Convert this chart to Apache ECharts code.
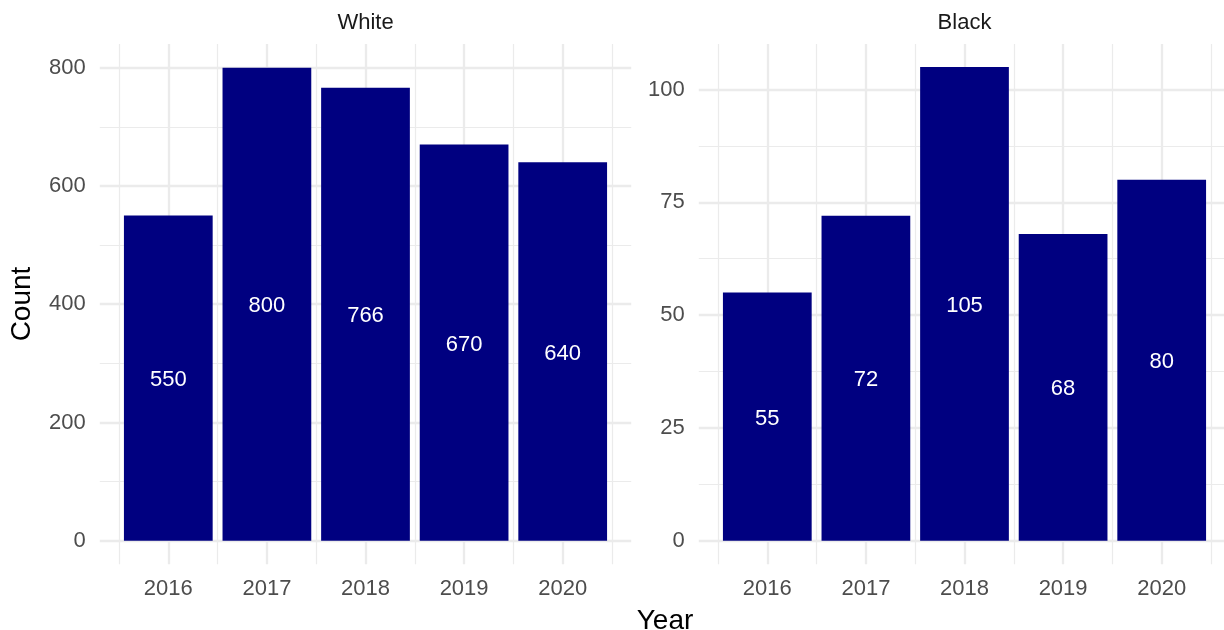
<!DOCTYPE html>
<html>
<head>
<meta charset="utf-8">
<script src="https://cdn.jsdelivr.net/npm/echarts@6/dist/echarts.min.js"></script>
<style>
html,body{margin:0;padding:0;background:#fff;}
#chart{width:1224px;height:630px;}
</style>
</head>
<body>
<div id="chart"></div>
<script>
// ---- data ----
const years = [2016, 2017, 2018, 2019, 2020];
const whiteCounts = [550, 800, 766, 670, 640];
const blackCounts = [55, 72, 105, 68, 80];
const panelTitles = ['White', 'Black'];
const xTitle = 'Year';
const yTitle = 'Count';

// ---- layout (pixels) ----
const FONT = '"Liberation Sans", Arial, Helvetica, sans-serif';
const GRID_COLOR = '#EBEBEB';
const MAJOR_W = 2.3, MINOR_W = 1.2;
const unitX = 98.6;               // px per year
const CANVAS_W = 1224;
const panels = [
  { x0: 168.3, yTop: 67.7, yBot: 540.7, max: 800, step: 200, data: whiteCounts },
  { x0: 767.3, yTop: 89.5, yBot: 540.7, max: 100, step: 25, data: blackCounts }
];
const panelTop = 44.0, panelBot = 564.3;
const expandLo = 2015.305, expandHi = 2020.695;

const majorLines = years.slice();
const minorLines = years.map(y => y - 0.5).concat([years[years.length - 1] + 0.5]);

const grids = [], xAxes = [], yAxes = [], series = [], graphics = [];
panels.forEach((p, i) => {
  const pLeft = p.x0 - (years[0] - expandLo) * unitX;
  const fullRight = p.x0 + (expandHi - years[0]) * unitX;
  const pRight = Math.min(fullRight, CANVAS_W);
  const hi = years[0] + (pRight - p.x0) / unitX;
  const pWidth = pRight - pLeft;
  const gA = i * 2, gB = i * 2 + 1;
  // grid A: bars + horizontal gridlines
  grids.push({ left: pLeft, top: p.yTop, width: pWidth, height: p.yBot - p.yTop, containLabel: false });
  // grid B: vertical gridlines + x labels (full panel height)
  grids.push({ left: pLeft, top: panelTop, width: pWidth, height: panelBot - panelTop, containLabel: false });
  xAxes.push({
    gridIndex: gA, type: 'value', min: expandLo, max: hi, show: false,
    splitLine: { show: false }
  });
  yAxes.push({
    gridIndex: gA, type: 'value', min: 0, max: p.max, interval: p.step,
    axisLine: { show: false }, axisTick: { show: false },
    axisLabel: { color: '#4D4D4D', fontFamily: FONT, fontSize: 22, margin: 14 },
    splitLine: { show: true, lineStyle: { color: GRID_COLOR, width: MAJOR_W } },
    minorTick: { show: false, splitNumber: 2 },
    minorSplitLine: { show: true, lineStyle: { color: GRID_COLOR, width: MINOR_W } }
  });
  xAxes.push({
    gridIndex: gB, type: 'value', min: expandLo, max: hi,
    axisLine: { show: false }, axisTick: { show: false, customValues: years },
    axisLabel: { color: '#4D4D4D', fontFamily: FONT, fontSize: 22, margin: 14,
      customValues: years, formatter: v => String(v) },
    splitLine: { show: false }
  });
  yAxes.push({ gridIndex: gB, type: 'value', min: 0, max: 1, show: false, splitLine: { show: false } });
  // vertical gridlines (drawn below bars)
  series.push({
    type: 'line', xAxisIndex: gB, yAxisIndex: gB, data: [], silent: true, z: 0, animation: false,
    markLine: {
      silent: true, symbol: 'none', animation: false,
      label: { show: false },
      data: majorLines.map(v => ({ xAxis: v, lineStyle: { color: GRID_COLOR, width: MAJOR_W, type: 'solid' } }))
        .concat(minorLines.map(v => ({ xAxis: v, lineStyle: { color: GRID_COLOR, width: MINOR_W, type: 'solid' } })))
    }
  });
  series.push({
    type: 'bar', xAxisIndex: gA, yAxisIndex: gA, barWidth: 0.9 * unitX, clip: false, z: 5,
    data: years.map((y, k) => [y, p.data[k]]),
    itemStyle: { color: '#000080' },
    label: { show: true, position: 'inside', color: '#FFFFFF', fontFamily: FONT, fontSize: 22,
      offset: [0, 2], formatter: d => d.value[1] },
    silent: true, animation: false
  });
  graphics.push({
    type: 'text', x: pLeft + (fullRight - pLeft) / 2, y: 23,
    style: { text: panelTitles[i], textAlign: 'center', textVerticalAlign: 'middle', fill: '#1A1A1A', font: '22px ' + FONT }
  });
});

graphics.push(
  { type: 'text', x: 22, y: 304, rotation: Math.PI / 2,
    style: { text: yTitle, textAlign: 'center', textVerticalAlign: 'middle', fill: '#000', font: '28px ' + FONT } },
  { type: 'text', x: 665, y: 621,
    style: { text: xTitle, textAlign: 'center', textVerticalAlign: 'middle', fill: '#000', font: '28px ' + FONT } }
);

const chart = echarts.init(document.getElementById('chart'), null, { renderer: 'canvas' });
chart.setOption({
  animation: false,
  backgroundColor: '#FFFFFF',
  grid: grids,
  xAxis: xAxes,
  yAxis: yAxes,
  series: series,
  graphic: graphics
});
</script>
</body>
</html>
